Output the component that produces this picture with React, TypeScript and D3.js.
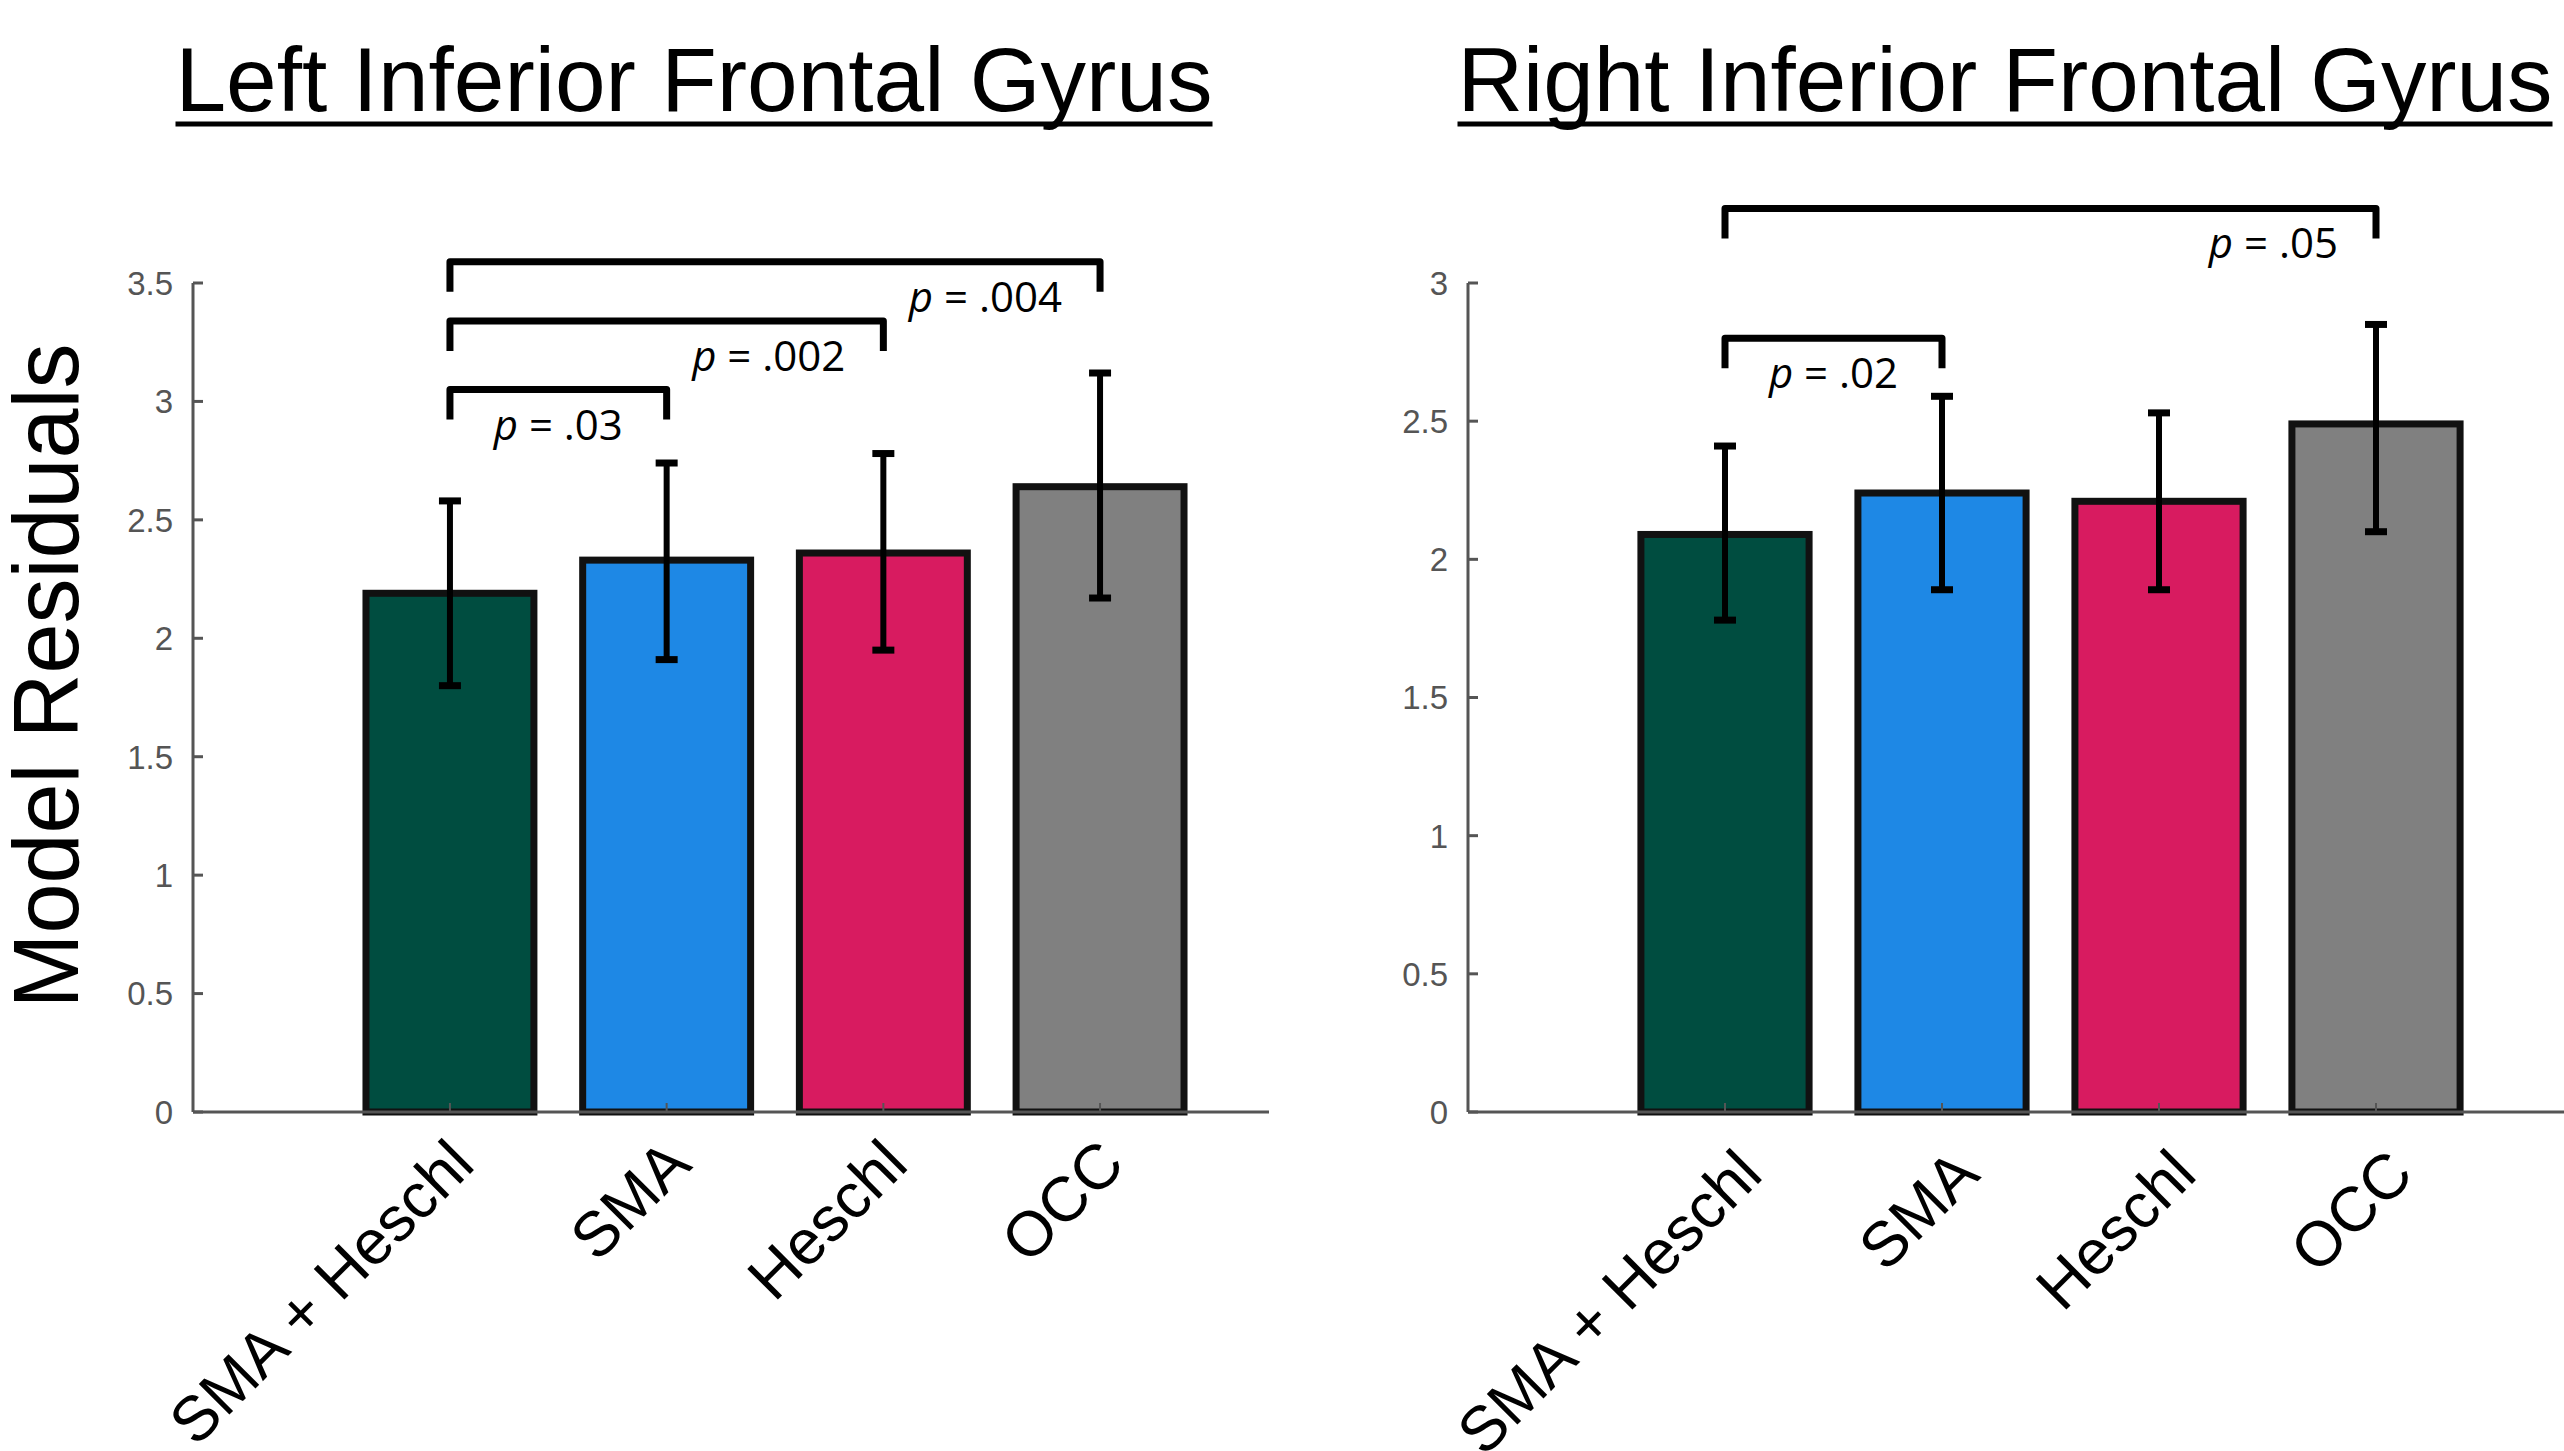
import React from 'react';
import * as d3 from 'd3';

// categories and colours shared by both panels
const categories = ['SMA + Heschl', 'SMA', 'Heschl', 'OCC'];
const barColors = ['#004D40', '#1E88E5', '#D81B60', '#808080'];

// left inferior frontal gyrus
const leftMeans = [2.19, 2.33, 2.36, 2.64];
const leftLower = [1.80, 1.91, 1.95, 2.17];
const leftUpper = [2.58, 2.74, 2.78, 3.12];
const leftTicks = [0, 0.5, 1, 1.5, 2, 2.5, 3, 3.5];
const leftPairs = [[0, 1], [0, 2], [0, 3]];
const leftPValues = ['.03', '.002', '.004'];
const leftBracketLevels = [3.05, 3.34, 3.59];

// right inferior frontal gyrus
const rightMeans = [2.09, 2.24, 2.21, 2.49];
const rightLower = [1.78, 1.89, 1.89, 2.10];
const rightUpper = [2.41, 2.59, 2.53, 2.85];
const rightTicks = [0, 0.5, 1, 1.5, 2, 2.5, 3];
const rightPairs = [[0, 1], [0, 3]];
const rightPValues = ['.02', '.05'];
const rightBracketLevels = [2.80, 3.27];

const sans = 'Liberation Sans, Arial, Helvetica, sans-serif';
const calibriLike = 'Open Sans, Noto Sans, sans-serif';
const axisGray = '#555';

const Panel = ({ title, titleX, titleWidth, means, lower, upper, ticks, yMax, axisX, axisEnd, bandRange, pairs, pValues, levels, labelDx, labelY }) => {
    const y0 = 1112, yTop = 283;
    const y = d3.scaleLinear().domain([0, yMax]).range([y0, yTop]);
    const x = d3.scaleBand().domain(categories).range(bandRange).paddingInner(0.225).paddingOuter(0.1125);
    const bw = x.bandwidth();
    const cx = (i) => x(categories[i]) + bw / 2;

    return (
        <g>
            {/* title + underline */}
            <text x={titleX} y={111} fontFamily={sans} fontSize={91} textAnchor="middle"
                textLength={titleWidth} lengthAdjust="spacingAndGlyphs" fill="#000">{title}</text>
            <line x1={titleX - titleWidth / 2} x2={titleX + titleWidth / 2} y1={124} y2={124} stroke="#000" strokeWidth={5} />

            {/* y axis */}
            <line x1={axisX} x2={axisX} y1={yTop} y2={y0} stroke={axisGray} strokeWidth={3} />
            {ticks.map((t) => (
                <g key={t}>
                    <line x1={axisX} x2={axisX + 10} y1={y(t)} y2={y(t)} stroke={axisGray} strokeWidth={3} />
                    <text x={axisX - 20} y={y(t)} dy="0.36em" textAnchor="end" fontFamily={sans}
                        fontSize={33} fill={axisGray}>{String(t)}</text>
                </g>
            ))}

            {/* bars */}
            {categories.map((c, i) => (
                <rect key={c} x={x(c)} y={y(means[i])} width={bw} height={y0 - y(means[i])}
                    fill={barColors[i]} stroke="#111" strokeWidth={7} />
            ))}

            {/* x axis */}
            <line x1={axisX} x2={axisEnd} y1={y0} y2={y0} stroke={axisGray} strokeWidth={3} />
            {categories.map((c, i) => (
                <line key={c} x1={cx(i)} x2={cx(i)} y1={y0} y2={y0 - 9} stroke={axisGray} strokeWidth={2} />
            ))}

            {/* error bars */}
            {categories.map((c, i) => (
                <g key={c} stroke="#000">
                    <line x1={cx(i)} x2={cx(i)} y1={y(upper[i])} y2={y(lower[i])} strokeWidth={6} />
                    <line x1={cx(i) - 11} x2={cx(i) + 11} y1={y(upper[i])} y2={y(upper[i])} strokeWidth={7} />
                    <line x1={cx(i) - 11} x2={cx(i) + 11} y1={y(lower[i])} y2={y(lower[i])} strokeWidth={7} />
                </g>
            ))}

            {/* x labels */}
            {categories.map((c, i) => (
                <text key={c} transform={`translate(${cx(i) + labelDx},${labelY}) rotate(-45)`}
                    textAnchor="end" fontFamily={sans} fontSize={63} fill="#000">{c}</text>
            ))}

            {/* significance brackets */}
            {pairs.map(([a, b], k) => {
                const x1 = cx(a), x2 = cx(b), yt = y(levels[k]);
                const adjacent = b - a === 1;
                return (
                    <g key={k}>
                        <path d={`M${x1},${yt + 30}L${x1},${yt}L${x2},${yt}L${x2},${yt + 30}`}
                            fill="none" stroke="#000" strokeWidth={7} strokeLinejoin="round" />
                        <text x={adjacent ? (x1 + x2) / 2 : x2 - 38} y={yt + 50}
                            textAnchor={adjacent ? 'middle' : 'end'} fontFamily={calibriLike}
                            fontSize={42} fill="#000">
                            <tspan fontStyle="italic">p</tspan> = {pValues[k]}
                        </text>
                    </g>
                );
            })}
        </g>
    );
};

const App = () => {
    return (
        <svg width={2564} height={1451} style={{ position: 'absolute', left: 0, top: 0, background: '#fff' }}>
            <rect width={2564} height={1451} fill="#fff" />
            <text transform="translate(78,676) rotate(-90)" textAnchor="middle" fontFamily={sans}
                fontSize={92} textLength={665} lengthAdjust="spacingAndGlyphs" fill="#000">Model Residuals</text>

            <Panel title="Left Inferior Frontal Gyrus" titleX={694} titleWidth={1037}
                means={leftMeans} lower={leftLower} upper={leftUpper} ticks={leftTicks} yMax={3.5}
                axisX={193} axisEnd={1269} bandRange={[341.6, 1208.4]}
                pairs={leftPairs} pValues={leftPValues} levels={leftBracketLevels}
                labelDx={27} labelY={1167} />

            <Panel title="Right Inferior Frontal Gyrus" titleX={2005} titleWidth={1095}
                means={rightMeans} lower={rightLower} upper={rightUpper} ticks={rightTicks} yMax={3}
                axisX={1468} axisEnd={2564} bandRange={[1616.5, 2484.5]}
                pairs={rightPairs} pValues={rightPValues} levels={rightBracketLevels}
                labelDx={40} labelY={1177} />
        </svg>
    );
};

export default App;
